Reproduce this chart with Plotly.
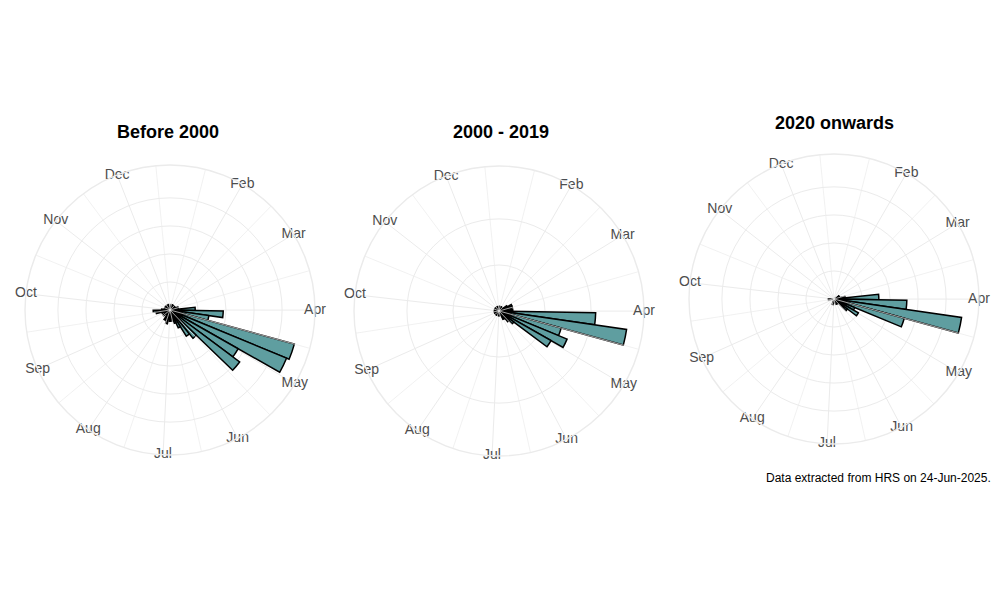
import plotly.graph_objects as go

# weekly record counts, bin k covers days 1+7k .. 7+7k of the year
weeks = list(range(1, 52))

before_2000 = [1, 1, 2, 1, 2, 1, 2, 2, 1, 2, 3,
               3, 9, 19, 14, 46, 45, 28, 31, 13, 11,
               7, 5, 4, 3, 4, 3, 5, 3, 4, 2,
               2, 3, 2, 2, 3, 5, 6, 3, 2, 2,
               1, 2, 1, 1, 2, 1, 1, 2, 1, 1]

from_2000 = [0, 0, 1, 1, 0, 1, 1, 1, 2, 3, 3,
             2, 3, 21, 28, 14, 16, 13, 4, 3, 2,
             2, 1, 1, 1, 0, 1, 1, 0, 1, 1,
             0, 1, 0, 1, 1, 1, 0, 1, 0, 0,
             1, 0, 0, 1, 0, 0, 1, 0, 0, 1]

from_2020 = [0, 0, 0, 0, 0, 0, 0, 0, 1, 1, 1,
             2, 8, 13, 23, 13, 4, 5, 3, 1, 1,
             0, 1, 0, 0, 0, 0, 1, 0, 0, 0,
             0, 0, 0, 0, 0, 0, 1, 0, 0, 0,
             0, 0, 0, 0, 0, 0, 0, 0, 0, 0]

panel_titles = ["Before 2000", "2000 - 2019", "2020 onwards"]
radial_breaks = [[10, 20, 30, 40], [10, 20], [5, 10, 15, 20]]

month_labels = ["Feb", "Mar", "Apr", "May", "Jun", "Jul", "Aug", "Sep", "Oct", "Nov", "Dec"]
month_start_day = [32, 60, 91, 121, 152, 182, 213, 244, 274, 305, 335]
minor_days = [16.5, 46, 75.5, 106, 136.5, 167, 197.5, 228.5, 259, 289.5, 320, 350.5]

# day-of-year range covered by the theta scale
DAY0, DAY1 = 2.6, 356.0


def day_to_deg(d):
    return (d - DAY0) * 360.0 / (DAY1 - DAY0)


# page has an 8px body margin, so positions below are page pixels minus 8
W, H, PAD = 1000, 600, 8


def px_x(x):
    return (x - PAD) / W


def px_y(y):
    return 1 - (y - PAD) / H


GRID = "#ebebeb"
FONT = "Liberation Sans, Arial, sans-serif"

series = [before_2000, from_2000, from_2020]
# centre and outer radius of each rose, in page pixels
centres = [(170, 310), (499, 311), (834, 299)]
RADIUS = 145
title_pos = [(168, 132), (501, 132), (834, 123)]

bar_theta = [day_to_deg(7 * w - 2.5) for w in weeks]
bar_width = 7 * 360.0 / (DAY1 - DAY0)

fig = go.Figure()
layout = dict(
    width=W, height=H,
    margin=dict(l=0, r=0, t=0, b=0),
    paper_bgcolor="white",
    showlegend=False,
    font=dict(family=FONT),
)
annotations = []

for i, counts in enumerate(series):
    name = "polar" if i == 0 else "polar%d" % (i + 1)
    rmax = max(counts) * 1.125
    cx, cy = centres[i]

    # minor spokes
    for d in minor_days:
        if DAY0 <= d <= DAY1:
            fig.add_trace(go.Scatterpolar(
                r=[0, rmax], theta=[day_to_deg(d)] * 2, mode="lines",
                line=dict(color=GRID, width=0.7), hoverinfo="skip",
                subplot=name))

    fig.add_trace(go.Barpolar(
        r=counts, theta=bar_theta, width=bar_width,
        marker=dict(color="#5f9ea0", line=dict(color="black", width=1.5)),
        subplot=name))

    # month labels sit centred on the outer circle
    fig.add_trace(go.Scatterpolar(
        r=[rmax] * len(month_labels),
        theta=[day_to_deg(d) for d in month_start_day],
        mode="text", text=month_labels,
        textfont=dict(size=14, color="#4d4d4d", family=FONT),
        cliponaxis=False, hoverinfo="skip", subplot=name))

    layout[name] = dict(
        domain=dict(x=[px_x(cx - RADIUS), px_x(cx + RADIUS)],
                    y=[px_y(cy + RADIUS), px_y(cy - RADIUS)]),
        bgcolor="white",
        radialaxis=dict(range=[0, rmax], tickvals=radial_breaks[i],
                        showticklabels=False, ticks="", showline=False,
                        gridcolor=GRID, gridwidth=1.4),
        angularaxis=dict(rotation=90, direction="clockwise", thetaunit="degrees",
                         tickvals=[day_to_deg(d) for d in month_start_day],
                         showticklabels=False, ticks="",
                         gridcolor=GRID, gridwidth=1.4,
                         showline=True, linecolor=GRID, linewidth=1.4),
    )

    tx, ty = title_pos[i]
    annotations.append(dict(text="<b>%s</b>" % panel_titles[i], x=px_x(tx), y=px_y(ty),
                            xref="paper", yref="paper", showarrow=False,
                            xanchor="center", yanchor="middle",
                            font=dict(size=18, color="black", family=FONT)))

annotations.append(dict(text="Data extracted from HRS on 24-Jun-2025.",
                        x=px_x(993), y=px_y(478), xref="paper", yref="paper",
                        showarrow=False, xanchor="right", yanchor="middle",
                        font=dict(size=12, color="black", family=FONT)))

layout["annotations"] = annotations
fig.update_layout(**layout)

fig.write_html("out.html")
